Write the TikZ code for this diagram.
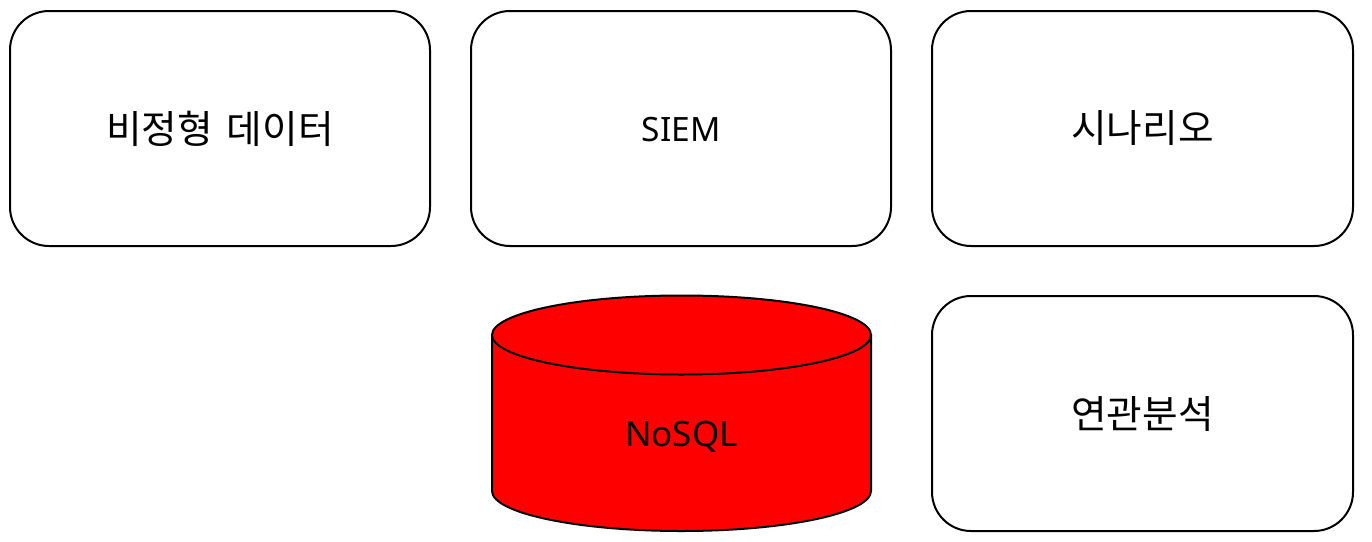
\documentclass[tikz,border=0pt]{standalone}
\usepackage{fontspec}
\setmainfont{Noto Sans CJK KR}
\newfontfamily\latinfont{Noto Sans}
\tikzset{
 card/.style={draw=black,line width=2pt,fill=white,rounded corners=39pt,minimum width=420pt,minimum height=235pt,inner sep=0pt,font=\fontsize{38.7}{44}\selectfont},
 cardwide/.style={card,minimum width=421pt},
 cyl/.style={draw=black,line width=2pt,fill=red},
 latin/.style={inner sep=0pt,font=\latinfont\fontsize{33.5}{40}\selectfont},
 latinbig/.style={inner sep=0pt,font=\latinfont\fontsize{35}{40}\selectfont},
}
\begin{document}
\begin{tikzpicture}[x=1pt,y=-1pt]
\useasboundingbox (0,0) rectangle (1372,541);
\fill[white] (0,0) rectangle (1372,541);
\node[card] (a) at (220,128.5) {비정형\hspace{5pt} 데이터};
\node[card] (b) at (681,128.5) {};
\node[latin] (bt) at (681,129.5) {SIEM};
\node[cardwide] (c) at (1142.5,128.5) {시나리오};
\node[cardwide] (d) at (1142.5,413.5) {연관분석};
\path[cyl] (492,335) -- (492,491) .. controls (492,513) and (577,531) .. (681.5,531) .. controls (786,531) and (871,513) .. (871,491) -- (871,335) -- cycle;
\draw[cyl] (681.5,335) ellipse [x radius=189.5,y radius=39.5];
\node[latinbig] (e) at (681.5,437) {NoSQL};
\end{tikzpicture}
\end{document}
